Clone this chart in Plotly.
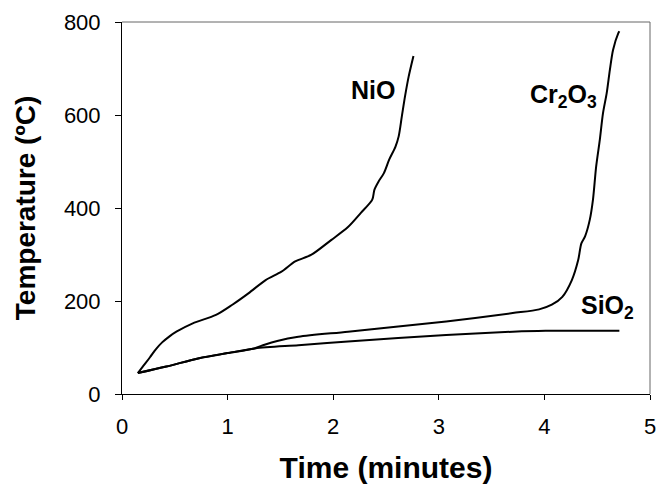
import plotly.graph_objects as go

# NiO series
nio_t = [0.15, 0.2, 0.265, 0.32, 0.38, 0.45, 0.515, 0.67, 0.89, 1.045, 1.20, 1.36, 1.51, 1.64, 1.79,
         1.98, 2.14, 2.26, 2.37, 2.39, 2.43, 2.48, 2.53, 2.59, 2.62, 2.65, 2.68, 2.715, 2.76]
nio_T = [45, 60, 79, 96, 111, 124, 134, 152, 170, 192, 217, 245, 263, 285, 299,
         331, 359, 389, 418, 439, 457, 475, 504, 532, 554, 597, 640, 683, 727]

# Cr2O3 series
cr_t = [0.15, 0.42, 0.73, 1.0, 1.25, 1.35, 1.47, 1.67, 2.14, 3.07, 3.70, 3.95, 4.07, 4.17, 4.26,
        4.32, 4.35, 4.385, 4.43, 4.46, 4.49, 4.525, 4.555, 4.59, 4.62, 4.65, 4.70, 4.71]
cr_T = [45, 59, 77, 88, 98, 106, 114, 123, 134, 156, 174, 182, 192, 209, 245,
        288, 324, 339, 375, 418, 489, 547, 604, 647, 697, 740, 776, 780]

# SiO2 series
si_t = [0.15, 0.42, 0.73, 1.0, 1.26, 1.67, 2.14, 3.07, 3.70, 4.01, 4.71]
si_T = [45, 59, 77, 88, 98, 105, 113, 127, 134, 136, 136]

x_ticks = [0, 1, 2, 3, 4, 5]
y_ticks = [0, 200, 400, 600, 800]

FONT = "Liberation Sans, Arial, sans-serif"

fig = go.Figure()
for t, T, name in [(nio_t, nio_T, "NiO"), (cr_t, cr_T, "Cr2O3"), (si_t, si_T, "SiO2")]:
    fig.add_trace(go.Scatter(x=t, y=T, mode="lines", name=name,
                             line=dict(color="black", width=2, shape="spline", smoothing=0.8),
                             showlegend=False))

fig.update_layout(
    width=662, height=489, autosize=False,
    margin=dict(l=122, r=6, t=22, b=95),
    paper_bgcolor="white", plot_bgcolor="white",
    font=dict(family=FONT, color="black"),
    xaxis=dict(range=[0, 5], tickvals=x_ticks, showgrid=False, zeroline=False,
               showline=True, linecolor="black", linewidth=1,
               ticks="outside", ticklen=5, tickcolor="black", ticklabelstandoff=8,
               ticklabeloverflow="allow",
               tickfont=dict(size=22, family=FONT),
               title=dict(text="<b>Time (minutes)</b>", font=dict(size=30, family=FONT), standoff=18)),
    yaxis=dict(range=[0, 800], tickvals=y_ticks, showgrid=False, zeroline=False,
               showline=True, linecolor="black", linewidth=1,
               ticks="outside", ticklen=6, tickcolor="black", ticklabelstandoff=10,
               ticklabeloverflow="allow",
               tickfont=dict(size=22, family=FONT),
               title=dict(text="<b>Temperature (ºC)</b>", font=dict(size=28, family=FONT), standoff=20)),
    shapes=[
        dict(type="line", xref="paper", yref="paper", x0=0, x1=1, y0=1, y1=1,
             line=dict(color="#666666", width=1)),
        dict(type="line", xref="paper", yref="paper", x0=1, x1=1, y0=0, y1=1,
             line=dict(color="#666666", width=1)),
    ],
    annotations=[
        dict(x=2.38, y=654, text="<b>NiO</b>", showarrow=False, font=dict(size=25, family=FONT)),
        dict(x=4.18, y=640, text="<b>Cr<sub>2</sub>O<sub>3</sub></b>", showarrow=False,
             font=dict(size=25, family=FONT)),
        dict(x=4.6, y=188, text="<b>SiO<sub>2</sub></b>", showarrow=False,
             font=dict(size=25, family=FONT)),
    ],
)

fig.write_html("out.html")
